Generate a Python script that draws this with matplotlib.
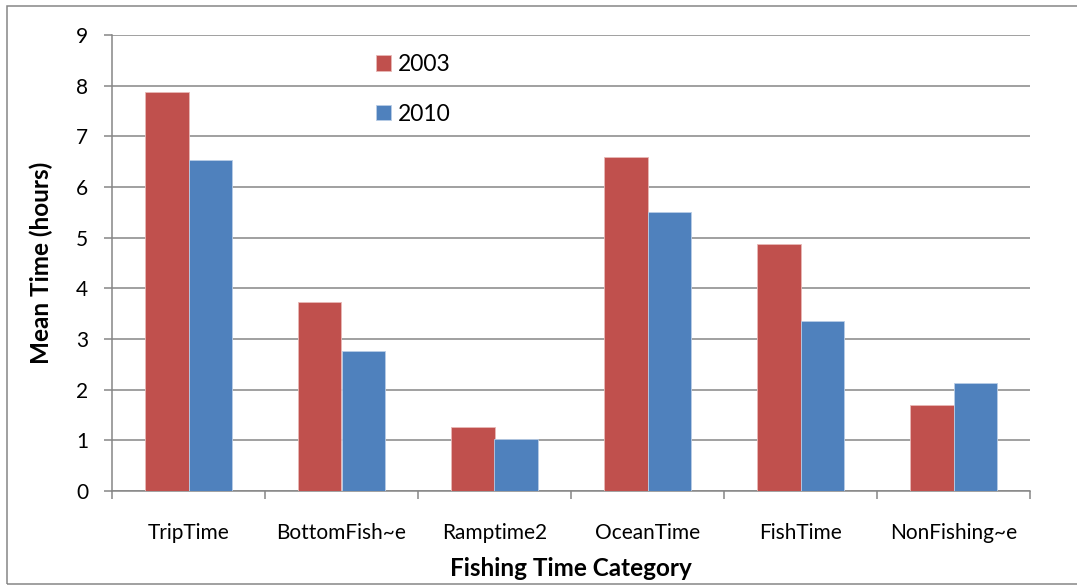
import numpy as np
import matplotlib
matplotlib.use('Agg')
from matplotlib import pyplot as plt

plt.rcParams['font.family'] = ['Lato', 'DejaVu Sans']

categories = ['TripTime', 'BottomFish~e', 'Ramptime2', 'OceanTime', 'FishTime', 'NonFishing~e']
mean_2003 = [7.88, 3.74, 1.27, 6.59, 4.87, 1.70]
mean_2010 = [6.54, 2.76, 1.03, 5.50, 3.36, 2.13]
years = ['2003', '2010']

red = '#C0504D'
blue = '#4F81BD'
grey = '#868686'

W, H = 1077, 586
fig = plt.figure(figsize=(W / 100, H / 100), dpi=100)

# plot area in pixel terms
left, right, top, bottom = 112, 1030, 35, 491
ax = fig.add_axes([left / W, 1 - bottom / H, (right - left) / W, (bottom - top) / H])

x = np.arange(len(categories))
bw = 0.286
ax.bar(x - bw / 2, mean_2003, bw, color=red, edgecolor='#e8b8b6', linewidth=0.6, label=years[0], zorder=3)
ax.bar(x + bw / 2, mean_2010, bw, color=blue, edgecolor='#b9cde6', linewidth=0.6, label=years[1], zorder=3)

ax.set_xlim(-0.5, len(categories) - 0.5)
ax.set_ylim(0, 9)
ax.set_yticks(range(10))
ax.yaxis.grid(True, color=grey, linewidth=1.1, zorder=0)

ax.set_xticks(x)
ax.set_xticklabels(categories, fontsize=15)
ax.set_xticks(np.arange(len(categories) + 1) - 0.5, minor=True)
ax.tick_params(axis='x', which='major', length=0, pad=23)
ax.tick_params(axis='x', which='minor', length=6, width=1.1, color=grey, direction='out')
ax.tick_params(axis='y', length=6, width=1.1, color=grey, direction='out', pad=11, labelsize=15)

for side in ['top', 'right']:
    ax.spines[side].set_visible(False)
for side in ['left', 'bottom']:
    ax.spines[side].set_color(grey)
    ax.spines[side].set_linewidth(1.1)

ax.set_ylabel('Mean Time (hours)', fontsize=17.5, fontweight='bold', labelpad=17)
ax.set_xlabel('Fishing Time Category', fontsize=17.5, fontweight='bold', labelpad=10)

ax.legend(loc='upper left', bbox_to_anchor=((376 - left) / (right - left), 1 - (54 - top) / (bottom - top)),
          frameon=False, fontsize=16.5, handlelength=0.65, handleheight=0.65,
          handletextpad=0.3, labelspacing=1.25, borderaxespad=0, borderpad=0)

# outer chart border
fig.patches.append(plt.Rectangle((7 / W, 1 - 584 / H), 1.2, (584 - 6) / H, transform=fig.transFigure,
                                 fill=False, edgecolor=grey, linewidth=1.1))

fig.savefig('out.png', dpi=100)
plt.close(fig)
